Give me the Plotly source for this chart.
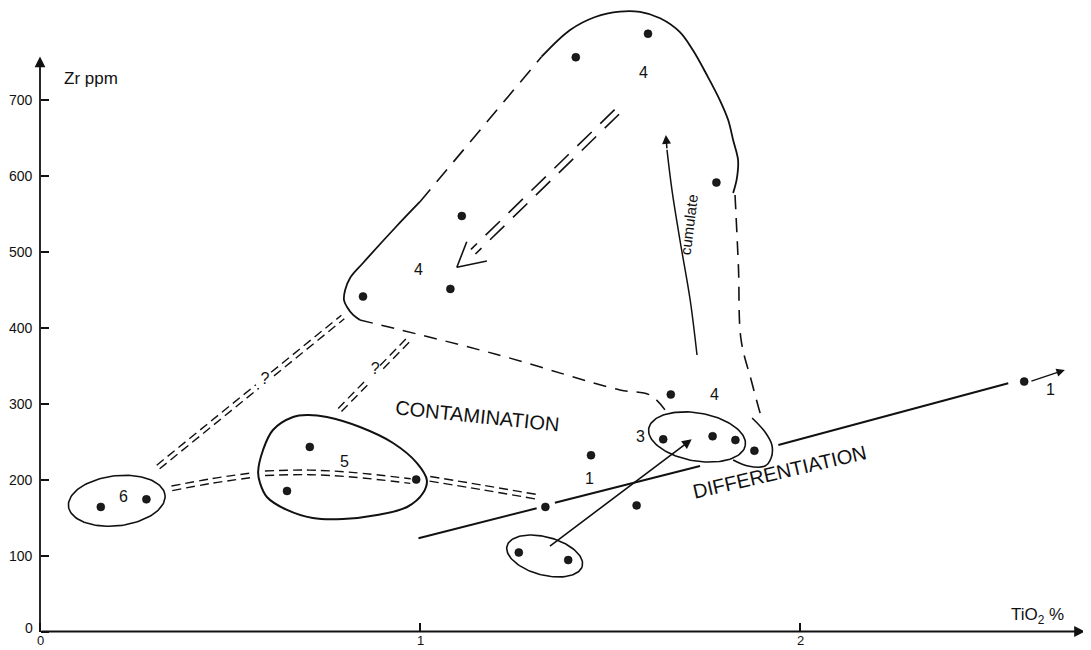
import numpy as np
import plotly.graph_objects as go

# ---------------- data (TiO2 %, Zr ppm) ----------------
tio2 = [0.16, 0.28, 0.71, 0.65, 0.99, 1.33, 1.45, 1.57, 1.26, 1.39, 2.59,
        1.64, 1.77, 1.83, 1.88, 1.66, 0.85, 1.08, 1.11, 1.41, 1.60, 1.78]
zr = [164, 174, 243, 185, 200, 164, 232, 166, 104, 94, 329,
      253, 257, 252, 238, 312, 441, 451, 547, 756, 787, 591]

x_ticks = [0, 1, 2]
x_ticklabels = ["0", "1", "2"]
y_ticks = [0, 100, 200, 300, 400, 500, 600, 700]
y_ticklabels = ["0", "100", "200", "300", "400", "500", "600", "700"]

group_labels = ["6", "5", "4", "4", "4", "3", "1", "1"]
group_label_x = [0.219, 0.801, 0.996, 1.589, 1.774, 1.581, 1.446, 2.658]
group_label_y = [177.5, 223.5, 476.8, 735.7, 311.4, 256.5, 201.7, 318.9]

query_x = [0.592, 0.882]
query_y = [331, 344]

# hand-drawn guide curves (data units)
g4_corner_x = [1.0, 0.934, 0.85, 0.816, 0.803, 0.8, 0.808, 0.824, 0.842]
g4_corner_y = [565.8, 531.2, 485.1, 465.4, 449.6, 436.4, 427.2, 416.7, 410.1]
g4_left_dash_x = [1.0, 1.32]
g4_left_dash_y = [565.8, 756.7]
g4_top_x = [1.320, 1.395, 1.461, 1.526, 1.579, 1.632, 1.684, 1.718, 1.755,
            1.789, 1.811, 1.824, 1.837, 1.834, 1.824]
g4_top_y = [756.7, 791.9, 809.0, 816.0, 815.6, 807.3, 789.1, 765.5, 732.6,
            699.7, 673.4, 647.1, 620.7, 597.0, 577.3]
g4_right_dash_x = [1.829, 1.838, 1.845, 1.872, 1.9]
g4_right_dash_y = [574.7, 480, 383.8, 330, 278.4]
g4_bottom_dash_x = [0.842, 1.2, 1.526, 1.605, 1.645]
g4_bottom_dash_y = [410.1, 365, 318.0, 311.4, 291.6]
p_arc_x = [1.874, 1.908, 1.926, 1.924, 1.908, 1.863, 1.824]
p_arc_y = [281.1, 262.6, 245.5, 228.4, 217.9, 217.9, 225.8]

g5_x = [0.574, 0.587, 0.613, 0.666, 0.703, 0.755, 0.842, 0.929, 0.992, 1.018,
        1.008, 0.966, 0.887, 0.797, 0.718, 0.650, 0.597, 0.579, 0.574]
g5_y = [210.0, 239.0, 265.3, 282.4, 285.0, 282.4, 269.2, 248.2, 221.8, 199.4,
        182.3, 163.9, 153.4, 148.1, 149.4, 160.0, 177.1, 195.5, 210.0]

# ellipses: centre, conjugate half-axis vectors (data units)
ellipses = {
    "g6": dict(c=(0.202, 172.1), u=(0.127, 7.6), v=(-0.008, 32.7)),
    "g3": dict(c=(1.729, 256.1), u=(0.127, -11.2), v=(0.011, 31.1)),
    "g1low": dict(c=(1.328, 99.4), u=(0.099, -13.3), v=(0.013, 24.2)),
}

dbl_a = ([0.347, 0.45, 0.561], [188.5, 198, 206])
dbl_b = ([0.592, 0.7, 0.82, 0.975], [208.3, 209.5, 206.5, 198])
dbl_c = ([1.026, 1.16, 1.305], [201, 190, 177.5])
dbl_d1 = ([0.311, 0.572], [216.6, 322.6])
dbl_d2 = ([0.612, 0.797], [338.9, 414.0])
dbl_e1 = ([0.789, 0.865], [291.6, 330.5])
dbl_e2 = ([0.899, 0.969], [348.0, 383.8])
dbl_f = ([1.518, 1.140], [684.0, 500.0])
f_head_x = [1.123, 1.097, 1.176]
f_head_y = [513.2, 479.5, 487.8]

cum_x = [1.729, 1.711, 1.684, 1.663, 1.650]
cum_y = [364.0, 436.4, 515.4, 581.3, 634.0]
cum_tip = (1.647, 653.7)

diff_1 = ([0.996, 1.307], [122.7, 162.2])
diff_2 = ([1.355, 1.737], [169.6, 217.9])
diff_3 = ([1.943, 2.548], [245.5, 326.8])
diff_tail = (2.605, 328.9)
diff_tip = (2.697, 344.3)
mix_tail = (1.338, 110.9)
mix_tip = (1.715, 253.0)

# ---------------- figure geometry ----------------
# page body has an 8px margin, so the figure starts at (8, 8)
W, H = 1083, 642
PXU_X = 380.0      # px per TiO2 unit
PXU_Y = 0.7596     # px per Zr ppm
X0_PX, Y0_PX = 32.0, 623.5   # origin inside the figure
XR = [-X0_PX / PXU_X, (W - X0_PX) / PXU_X]
YR = [(Y0_PX - H) / PXU_Y, Y0_PX / PXU_Y]
SX = W / (XR[1] - XR[0])
SY = H / (YR[1] - YR[0])
FONT = "Liberation Sans, Arial, Helvetica, sans-serif"
BLACK = "#111111"

fig = go.Figure()


def add_line(xs, ys, dash="solid", width=1.6, shape="spline"):
    fig.add_trace(go.Scatter(x=xs, y=ys, mode="lines",
                             line=dict(color=BLACK, width=width, dash=dash, shape=shape,
                                       smoothing=1.0 if shape == "spline" else None),
                             hoverinfo="skip", showlegend=False))


def offset(xs, ys, d):
    px = np.array(xs, float) * SX
    py = np.array(ys, float) * SY
    n = len(px)
    ox, oy = [], []
    for i in range(n):
        a = max(i - 1, 0)
        b = min(i + 1, n - 1)
        dx, dy = px[b] - px[a], py[b] - py[a]
        L = np.hypot(dx, dy)
        nx, ny = -dy / L, dx / L
        ox.append((px[i] + nx * d) / SX)
        oy.append((py[i] + ny * d) / SY)
    return ox, oy


def add_double(seg, dash="9px,5px", sep=2.3, width=1.4):
    xs, ys = seg
    for d in (-sep, sep):
        ox, oy = offset(xs, ys, d)
        add_line(ox, oy, dash=dash, width=width, shape="linear" if len(xs) < 3 else "spline")


def add_ellipse(e, width=1.6):
    t = np.linspace(0, 2 * np.pi, 120)
    cx, cy = e["c"]
    ux, uy = e["u"]
    vx, vy = e["v"]
    add_line(list(cx + ux * np.cos(t) + vx * np.sin(t)),
             list(cy + uy * np.cos(t) + vy * np.sin(t)), width=width, shape="linear")


# group-4 outline
add_line(g4_corner_x, g4_corner_y, width=1.8)
add_line(g4_left_dash_x, g4_left_dash_y, dash="16px,10px", width=1.6, shape="linear")
add_line(g4_top_x, g4_top_y, width=1.8)
add_line(g4_right_dash_x, g4_right_dash_y, dash="14px,9px", width=1.6)
add_line(g4_bottom_dash_x, g4_bottom_dash_y, dash="13px,9px", width=1.5)
add_line(p_arc_x, p_arc_y, width=1.6)

# group outlines
add_line(g5_x, g5_y, width=2.0)
for e in ellipses.values():
    add_ellipse(e)

# double dashed links
for seg in (dbl_a, dbl_b, dbl_c, dbl_d1, dbl_d2, dbl_e1, dbl_e2):
    add_double(seg)
add_double(dbl_f, dash="20px,12px", sep=3.2, width=1.6)
add_line(f_head_x, f_head_y, width=1.6, shape="linear")

# cumulate arrow body
add_line(cum_x, cum_y, width=1.5)

# differentiation line
for seg in (diff_1, diff_2, diff_3):
    add_line(seg[0], seg[1], width=2.0, shape="linear")

# question marks on the uncertain links
fig.add_trace(go.Scatter(x=query_x, y=query_y, mode="text", text=["?", "?"],
                         textposition="middle center",
                         textfont=dict(family=FONT, size=16, color=BLACK),
                         hoverinfo="skip", showlegend=False))

# data points
fig.add_trace(go.Scatter(x=tio2, y=zr, mode="markers",
                         marker=dict(size=8, color="#1b1b1b",
                                     line=dict(color="#000000", width=0.5)),
                         hoverinfo="skip", showlegend=False))

ann = []


def arrow(tail, tip, width=1.6, head=3, size=1.3):
    ann.append(dict(x=tip[0], y=tip[1], ax=tail[0], ay=tail[1], xref="x", yref="y",
                    axref="x", ayref="y", text="", showarrow=True, arrowhead=head,
                    arrowsize=size, arrowwidth=width, arrowcolor=BLACK))


# axes with arrows
arrow((0, 0), (0, 757), width=1.8, head=2, size=1.2)
arrow((0, 0), (2.75, 0), width=1.8, head=2, size=1.2)
arrow((cum_x[-1], cum_y[-1]), cum_tip, width=1.5, head=2, size=1.2)
arrow(mix_tail, mix_tip, width=1.6, head=2, size=1.2)
arrow(diff_tail, diff_tip, width=1.4, head=2, size=1.2)


def text(x, y, s, size=15, angle=0, **kw):
    ann.append(dict(x=x, y=y, xref="x", yref="y", text=s, showarrow=False,
                    textangle=angle, font=dict(family=FONT, size=size, color=BLACK), **kw))


# tick labels
for v, s in zip(y_ticks, y_ticklabels):
    text(-0.012, v + (4 if v == 0 else 0), s, size=14, xanchor="right")
for v, s in zip(x_ticks, x_ticklabels):
    text(v, -12, s, size=13)

for s, x, y in zip(group_labels, group_label_x, group_label_y):
    text(x, y, s, size=16)

text(1.152, 283.7, "CONTAMINATION", size=20, angle=6)
text(1.945, 210, "DIFFERENTIATION", size=20, angle=-13)
text(1.707, 536, "cumulate", size=15, angle=-83)
text(0.058, 728, "Zr ppm", size=17, xanchor="left")
text(2.624, 21, "TiO<sub>2</sub> %", size=17)

fig.update_layout(
    width=W, height=H,
    margin=dict(l=0, r=0, t=0, b=0, pad=0),
    paper_bgcolor="white", plot_bgcolor="white",
    showlegend=False,
    annotations=ann,
    xaxis=dict(range=XR, anchor="free", position=(0 - YR[0]) / (YR[1] - YR[0]),
               showgrid=False, zeroline=False, showline=False,
               tickvals=x_ticks, showticklabels=False, ticks="inside",
               ticklen=9, tickwidth=1.6, tickcolor=BLACK, automargin=False),
    yaxis=dict(range=YR, anchor="free", position=(0 - XR[0]) / (XR[1] - XR[0]),
               showgrid=False, zeroline=False, showline=False,
               tickvals=y_ticks, showticklabels=False, ticks="inside",
               ticklen=8, tickwidth=1.6, tickcolor=BLACK, automargin=False),
)

fig.write_html("out.html")
